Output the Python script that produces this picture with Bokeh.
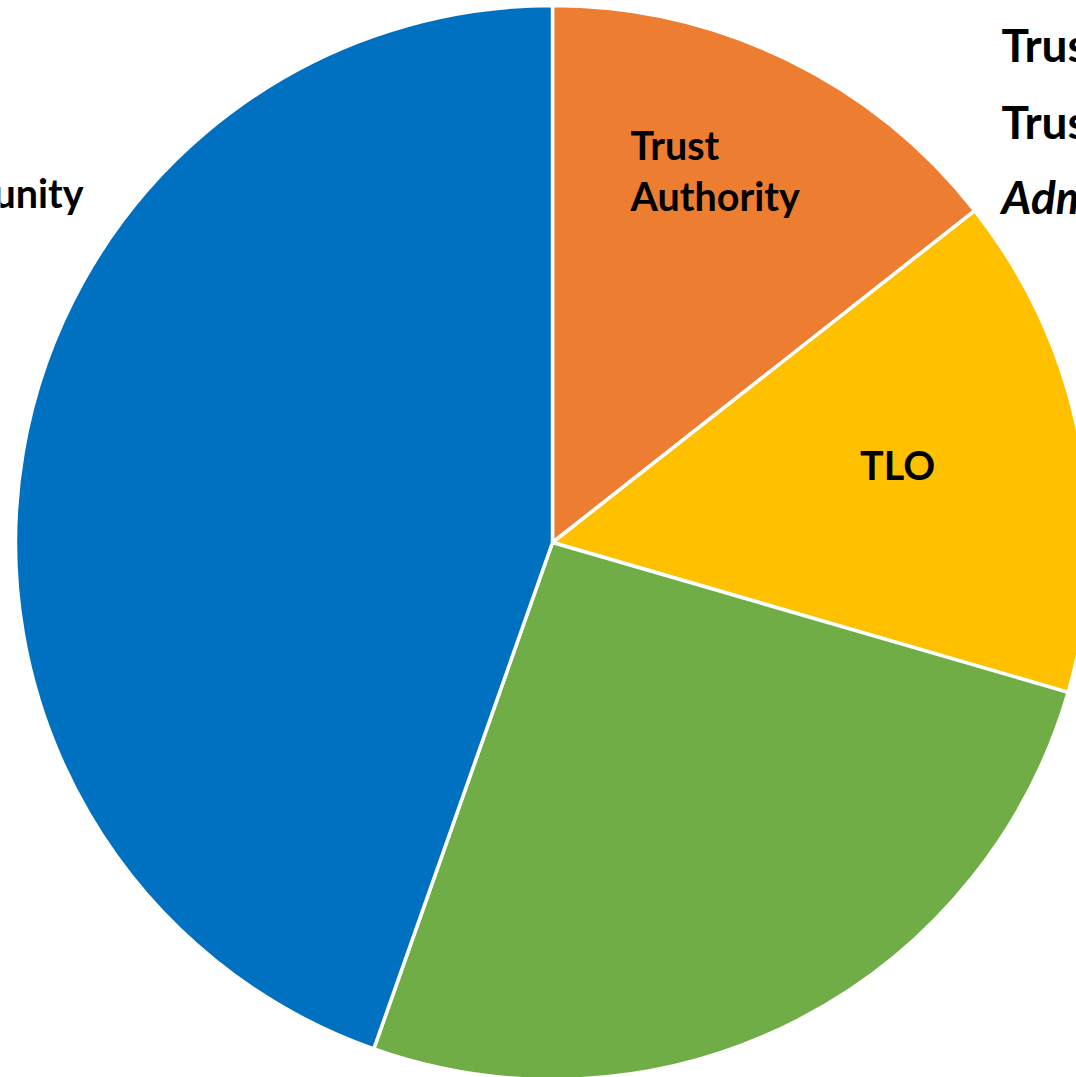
import math
from bokeh.plotting import figure
from bokeh.models import Range1d, ColumnDataSource
from bokeh.core.properties import value
from bokeh.embed import file_html
from bokeh.resources import INLINE

# ---- data ----
categories = ["Trust Authority", "TLO", "Other", "Community"]
values = [14.4, 15.1, 25.9, 44.6]
colors = ["#ED7D31", "#FFC000", "#70AD47", "#0070C0"]

side_labels = ["Trustees", "Trust Authority", "Administrator"]

W, H = 1076, 1077
CX, CY = 552, 542          # pie centre in figure pixels (from top-left)
R = 537

p = figure(width=W, height=H, output_backend="svg", toolbar_location=None,
           x_range=Range1d(-CX, W - CX), y_range=Range1d(-(H - CY), CY),
           min_border=0, outline_line_color=None)
p.axis.visible = False
p.grid.visible = False
p.background_fill_color = "white"
p.border_fill_color = "white"

total = sum(values)
starts, ends = [], []
cum = 0.0
for v in values:
    a0 = math.pi / 2 - 2 * math.pi * cum / total
    cum += v
    a1 = math.pi / 2 - 2 * math.pi * cum / total
    starts.append(a1)
    ends.append(a0)

src = ColumnDataSource(dict(cat=categories, val=values, color=colors,
                            start=starts, end=ends))
p.wedge(x=0, y=0, radius=R, start_angle="start", end_angle="end",
        fill_color="color", line_color="white", line_width=3.5, source=src)

font = value("Lato")
FS = 39.5
FS2 = 46
# slice labels
p.text(x=[78, 78], y=[398, 347], text=["Trust", "Authority"], text_font=font,
       text_font_style="bold", text_font_size=f"{FS}px", text_color="black",
       text_baseline="alphabetic", text_align="left")
p.text(x=[345], y=[78], text=["TLO"], text_font=font, text_font_style="bold",
       text_font_size=f"{FS}px", text_color="black", text_baseline="alphabetic",
       text_align="center")
p.text(x=[-469], y=[350], text=["Community"], text_font=font,
       text_font_style="bold", text_font_size=f"{FS}px", text_color="black",
       text_baseline="alphabetic", text_align="right")

# side annotations (partly outside the visible area)
p.text(x=[449, 449], y=[498, 421], text=side_labels[:2], text_font=font,
       text_font_style="bold", text_font_size=f"{FS2}px", text_color="black",
       text_baseline="alphabetic", text_align="left")
p.text(x=[449], y=[346], text=side_labels[2:], text_font=font,
       text_font_style="bold italic", text_font_size=f"{FS2}px", text_color="black",
       text_baseline="alphabetic", text_align="left")

open("out.html", "w").write(file_html(p, INLINE))
